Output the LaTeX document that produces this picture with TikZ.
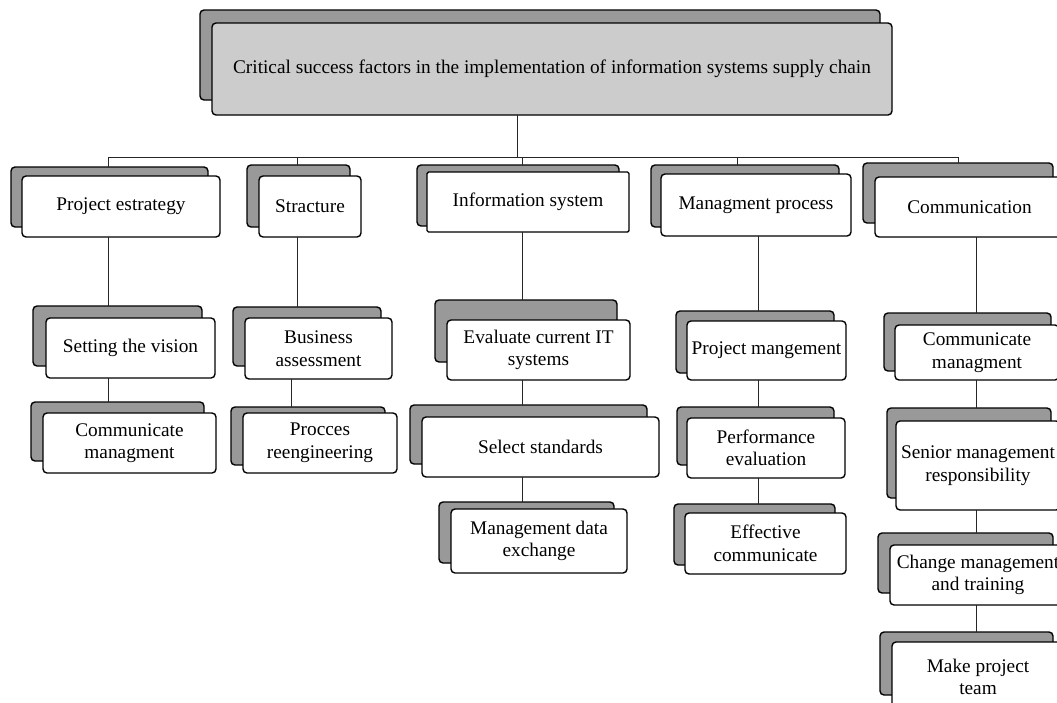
\documentclass[tikz,border=0pt]{standalone}
\usepackage{fontspec}
\setmainfont{Liberation Serif}
\definecolor{shadowgray}{HTML}{999999}
\definecolor{topgray}{HTML}{CCCCCC}
\tikzset{
  shadowbox/.style={draw=black, line width=1.4pt, fill=shadowgray, rounded corners=4pt, inner sep=0pt, outer sep=0pt},
  frontbox/.style={draw=black, line width=1.4pt, fill=white, rounded corners=4pt, inner sep=0pt, outer sep=0pt, align=center, font=\fontsize{19.3}{22.5}\selectfont},
  conn/.style={draw=black!85, line width=1pt},
}
\newcommand{\shadowrect}[5]{%
  \pgfmathsetmacro\bw{#4-#2}\pgfmathsetmacro\bh{#5-#3}%
  \pgfmathsetmacro\bx{(#2+#4)/2}\pgfmathsetmacro\by{(#3+#5)/2}%
  \node[shadowbox, minimum width=\bw pt, minimum height=\bh pt] (#1) at (\bx,\by) {};}
\newcommand{\frontrect}[7][]{%
  \pgfmathsetmacro\bw{#5-#3}\pgfmathsetmacro\bh{#6-#4}%
  \pgfmathsetmacro\bx{(#3+#5)/2}\pgfmathsetmacro\by{(#4+#6)/2}%
  \node[frontbox, minimum width=\bw pt, minimum height=\bh pt, #1] (#2) at (\bx,\by) {#7};}
\begin{document}
\begin{tikzpicture}[x=1pt,y=-1pt]
\useasboundingbox (0,0) rectangle (1057,702);
\clip (0,0) rectangle (1057,702);
% top
\shadowrect{top-s}{200}{10}{880}{100}
\frontrect[fill=topgray]{top}{212}{23}{892}{115}{Critical success factors in the implementation of information systems supply chain}
% row 1
\shadowrect{pe-s}{11}{167}{208}{227}
\frontrect{pe}{22}{176}{220}{237}{Project estrategy}
\shadowrect{st-s}{247}{165}{350}{227}
\frontrect{st}{259}{176}{361}{237}{Stracture}
\shadowrect{is-s}{417}{165}{619}{226}
\frontrect[rounded corners=1.5pt]{is}{427}{172}{629}{232}{Information system}
\shadowrect{mp-s}{651}{165}{839}{227}
\frontrect{mp}{661}{174}{851}{236}{Managment process}
\shadowrect{co-s}{863}{163}{1053}{223}
\frontrect{co}{875}{177}{1064}{237}{Communication}
% column 1
\shadowrect{sv-s}{33}{306}{202}{366}
\frontrect{sv}{46}{318}{215}{378}{Setting the vision}
\shadowrect{cm1-s}{31}{402}{204}{461}
\frontrect{cm1}{43}{413}{216}{473}{Communicate\\managment}
% column 2
\shadowrect{ba-s}{233}{307}{381}{366}
\frontrect{ba}{245}{318}{392}{379}{Business\\assessment}
\shadowrect{pr-s}{231}{407}{385}{465}
\frontrect{pr}{243}{413}{397}{473}{Procces\\reengineering}
% column 3
\shadowrect{ev-s}{435}{300}{617}{362}
\frontrect{ev}{447}{320}{630}{380}{Evaluate current IT\\systems}
\shadowrect{ss-s}{410}{405}{647}{464}
\frontrect{ss}{422}{417}{659}{477}{Select standards}
\shadowrect{md-s}{439}{502}{614}{563}
\frontrect{md}{451}{509}{627}{573}{Management data\\exchange}
% column 4
\shadowrect{pm-s}{676}{311}{834}{373}
\frontrect{pm}{687}{321}{846}{380}{Project mangement}
\shadowrect{pev-s}{677}{407}{834}{465}
\frontrect{pev}{687}{418}{845}{478}{Performance\\evaluation}
\shadowrect{ec-s}{674}{504}{835}{565}
\frontrect{ec}{685}{513}{846}{574}{Effective\\communicate}
% column 5
\shadowrect{cm2-s}{884}{313}{1051}{371}
\frontrect{cm2}{895}{325}{1059}{380}{Communicate\\managment}
\shadowrect{sm-s}{887}{408}{1051}{498}
\frontrect{sm}{896}{421}{1060}{510}{Senior management\\responsibility}
\shadowrect{ct-s}{878}{533}{1053}{593}
\frontrect{ct}{890}{545}{1066}{605}{Change management\\and training}
\shadowrect{mt-s}{880}{632}{1053}{695}
\frontrect{mt}{892}{642}{1064}{712}{Make project\\team}
% tree connectors
\coordinate (hub) at (517,157);
\coordinate (h1) at (108,157);
\coordinate (h2) at (297,157);
\coordinate (h3) at (522,157);
\coordinate (h4) at (737,157);
\coordinate (h5) at (958,157);
\draw[conn] (top.south -| hub) -- (hub);
\draw[conn] (h1) -- (h5);
\draw[conn] (h1) -- (pe-s.north -| h1);
\draw[conn] (h2) -- (st-s.north -| h2);
\draw[conn] (h3) -- (is-s.north -| h3);
\draw[conn] (h4) -- (mp-s.north -| h4);
\draw[conn] (h5) -- (co-s.north -| h5);
% column connectors
\coordinate (v1) at (108,0);
\coordinate (v2) at (297,0);
\coordinate (v2b) at (291,0);
\coordinate (v3) at (522,0);
\coordinate (v4) at (758,0);
\coordinate (v5) at (976,0);
\draw[conn] (pe.south -| v1) -- (sv-s.north -| v1);
\draw[conn] (sv.south -| v1) -- (cm1-s.north -| v1);
\draw[conn] (st.south -| v2) -- (ba-s.north -| v2);
\draw[conn] (ba.south -| v2b) -- (pr-s.north -| v2b);
\draw[conn] (is.south -| v3) -- (ev-s.north -| v3);
\draw[conn] (ev.south -| v3) -- (ss-s.north -| v3);
\draw[conn] (ss.south -| v3) -- (md-s.north -| v3);
\draw[conn] (mp.south -| v4) -- (pm-s.north -| v4);
\draw[conn] (pm.south -| v4) -- (pev-s.north -| v4);
\draw[conn] (pev.south -| v4) -- (ec-s.north -| v4);
\draw[conn] (co.south -| v5) -- (cm2-s.north -| v5);
\draw[conn] (cm2.south -| v5) -- (sm-s.north -| v5);
\draw[conn] (sm.south -| v5) -- (ct-s.north -| v5);
\draw[conn] (ct.south -| v5) -- (mt-s.north -| v5);
\end{tikzpicture}
\end{document}
